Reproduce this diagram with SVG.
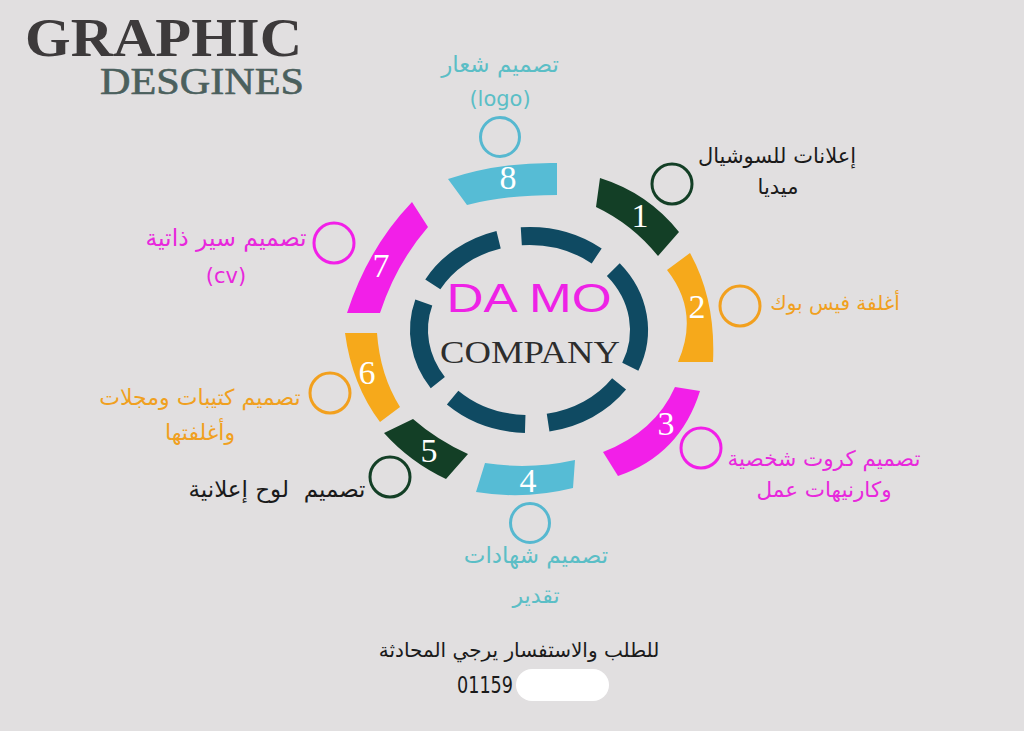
<svg xmlns="http://www.w3.org/2000/svg" width="1024" height="731" viewBox="0 0 1024 731">
<style>
.ar{font-family:"DejaVu Sans","Noto Sans",sans-serif;font-size:21px;text-anchor:middle}
.num{font-family:"Liberation Serif",serif;font-size:34px;fill:#ffffff;text-anchor:middle}
.ring{fill:none;stroke:#0f4a62;stroke-width:18}
.dot{fill:none;stroke-width:3}
.blue{fill:#56bcd5}.green{fill:#133f26}.orange{fill:#f6a91b}.pink{fill:#f21fe8}
.tblue{fill:#5bbec6}.tgreen{fill:#1a1a1a}.torange{fill:#f0a020}.tpink{fill:#e828dc}
</style>
<rect width="1024" height="731" fill="#e1dfe0"/>
<g id="title">
<text x="25" y="56" font-family="Liberation Serif, serif" font-weight="bold" font-size="54" fill="#3d3a3b" textLength="277" lengthAdjust="spacingAndGlyphs">GRAPHIC</text>
<text x="100" y="94" font-family="Liberation Serif, serif" font-size="38" fill="#4b605d" stroke="#4b605d" stroke-width="0.6" textLength="204" lengthAdjust="spacingAndGlyphs">DESGINES</text>
</g>
<g id="center">
<path class="ring" d="M521.3,236.2 A110,94 0 0 1 596.7,255.9"/>
<path class="ring" d="M613.3,269.6 A110,94 0 0 1 630.3,366.7"/>
<path class="ring" d="M619.1,383.9 A110,94 0 0 1 548.1,422.6"/>
<path class="ring" d="M525.2,423.9 A110,94 0 0 1 452.6,397.6"/>
<path class="ring" d="M437.8,382.6 A110,94 0 0 1 423.8,302.5"/>
<path class="ring" d="M432.8,284.4 A110,94 0 0 1 498.6,239.7"/>
<text x="529" y="312" font-family="Liberation Sans, sans-serif" font-size="40" fill="#ee22e6" text-anchor="middle" textLength="165" lengthAdjust="spacingAndGlyphs">DA MO</text>
<text x="530" y="363" font-family="Liberation Serif, serif" font-size="32" fill="#2d2d2d" text-anchor="middle" textLength="180" lengthAdjust="spacingAndGlyphs">COMPANY</text>
</g>
<g id="node8">
<path class="blue" d="M448,179 Q500,162 557,163 L557,195 Q505,195 467,205 Z"/>
<text class="num" x="508" y="189">8</text>
<circle class="dot" cx="500" cy="137" r="19.5" stroke="#56b8d0"/>
<text class="ar tblue" x="500" y="72" style="font-size:23px">تصميم شعار</text>
<text class="ar tblue" x="500" y="106">(logo)</text>
</g>
<g id="node1">
<path class="green" d="M600,178 Q648,193 679,232 L658,256 Q632,224 596,207 Z"/>
<text class="num" x="640" y="227">1</text>
<circle class="dot" cx="672" cy="184" r="20" stroke="#133f26"/>
<text class="ar tgreen" x="777" y="163">إعلانات للسوشيال</text>
<text class="ar tgreen" x="778" y="194">ميديا</text>
</g>
<g id="node2">
<path class="orange" d="M690,253 Q716,300 713,362 L678,362 Q700,312 667,270 Z"/>
<text class="num" x="697" y="318">2</text>
<circle class="dot" cx="740" cy="306" r="20" stroke="#f2a01e"/>
<text class="ar torange" x="835" y="310" style="font-size:20px">أغلفة فيس بوك</text>
</g>
<g id="node3">
<path class="pink" d="M700,391 Q680,455 618,476 L603,452 Q655,432 675,387 Z"/>
<text class="num" x="666" y="435">3</text>
<circle class="dot" cx="701" cy="448" r="20" stroke="#f21fe8"/>
<text class="ar tpink" x="824" y="466" style="font-size:21.5px">تصميم كروت شخصية</text>
<text class="ar tpink" x="824" y="497" style="font-size:21.5px">وكارنيهات عمل</text>
</g>
<g id="node4">
<path class="blue" d="M485,463 Q530,470 575,460 L573,488 Q525,500 476,492 Z"/>
<text class="num" x="528" y="492">4</text>
<circle class="dot" cx="530" cy="523" r="19.5" stroke="#56b8d0"/>
<text class="ar tblue" x="536" y="563" style="font-size:23px">تصميم شهادات</text>
<text class="ar tblue" x="536" y="603" style="font-size:22px">تقدير</text>
</g>
<g id="node5">
<path class="green" d="M384,433 Q410,462 446,479 L468,454 Q437,440 413,419 Z"/>
<text class="num" x="429" y="462">5</text>
<circle class="dot" cx="390" cy="477" r="20" stroke="#133f26"/>
<text class="ar tgreen" x="277" y="497" style="font-size:23px" xml:space="preserve">تصميم  لوح إعلانية</text>
</g>
<g id="node6">
<path class="orange" d="M345,333 Q352,385 380,422 L400,407 Q380,375 377,333 Z"/>
<text class="num" x="367" y="384">6</text>
<circle class="dot" cx="330" cy="393" r="20" stroke="#f2a01e"/>
<text class="ar torange" x="200" y="405" style="font-size:22px">تصميم كتيبات ومجلات</text>
<text class="ar torange" x="200" y="440" style="font-size:22px">وأغلفتها</text>
</g>
<g id="node7">
<path class="pink" d="M412,202 Q368,248 347,313 L380,313 Q396,264 428,227 Z"/>
<text class="num" x="381" y="277">7</text>
<circle class="dot" cx="334" cy="243" r="20" stroke="#f21fe8"/>
<text class="ar tpink" x="226" y="246" style="font-size:23.5px">تصميم سير ذاتية</text>
<text class="ar tpink" x="226" y="283">(cv)</text>
</g>
<g id="contact">
<text class="ar tgreen" x="519" y="657" style="font-size:20px">للطلب والاستفسار يرجي المحادثة</text>
<text x="457" y="693" font-family="DejaVu Sans, sans-serif" font-size="23" fill="#1a1a1a" textLength="56" lengthAdjust="spacingAndGlyphs">01159</text>
<rect x="516" y="669" width="93" height="32" rx="16" fill="#ffffff"/>
</g>
<g id="connectors"/>
</svg>
